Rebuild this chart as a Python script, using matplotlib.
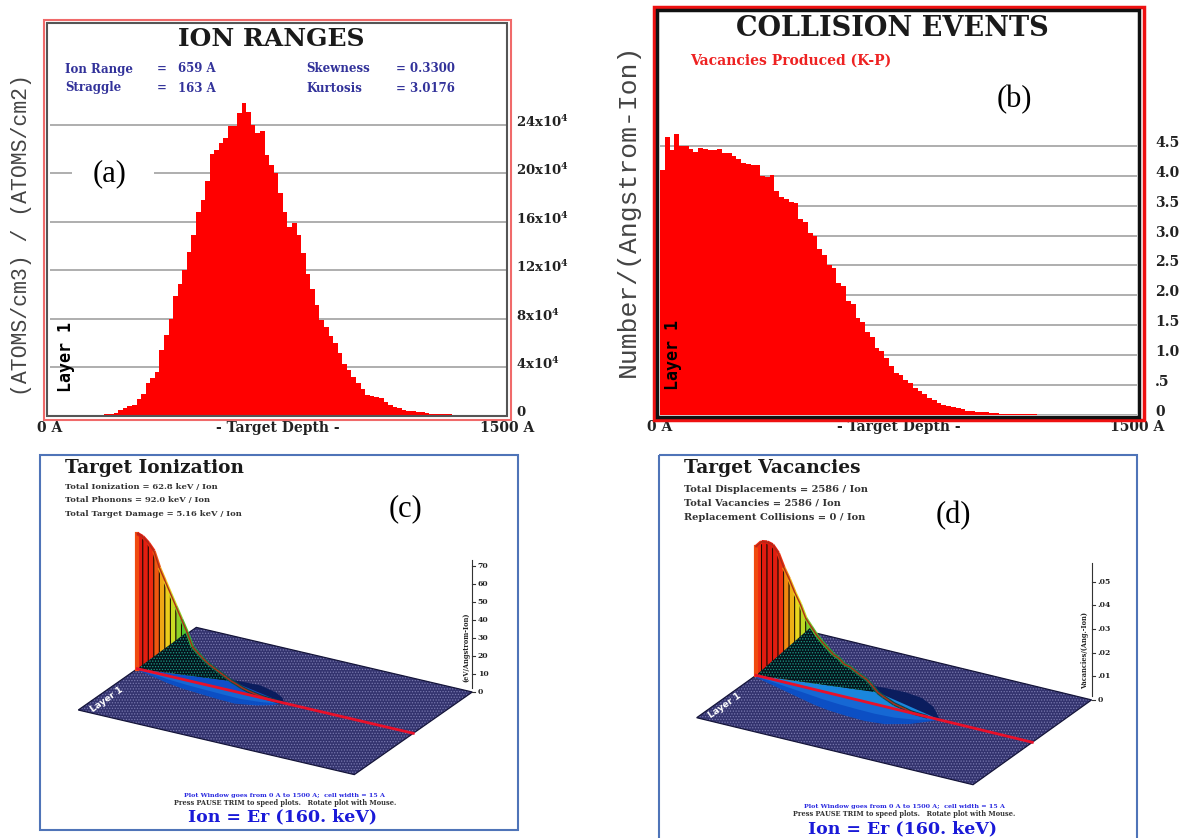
import numpy as np
import matplotlib
matplotlib.use("Agg")
import matplotlib.pyplot as plt
from matplotlib.collections import LineCollection, PolyCollection
from matplotlib.colors import LinearSegmentedColormap
from matplotlib.patches import Polygon, Rectangle
from matplotlib.transforms import ScaledTranslation

plt.rcParams["font.family"] = "DejaVu Serif"
plt.rcParams["mathtext.fontset"] = "dejavuserif"
plt.rcParams["hatch.linewidth"] = 0.6

W, H = 1184, 838

# (a) ion ranges, 100 cells of 15 A, units of 1e4
ion_range = [0] * 12 + [
    0.1, 0.1, 0.2, 0.5, 0.6, 0.8, 0.9, 1.4, 1.8, 2.7, 3.1, 3.6, 5.4, 6.7, 8.0, 9.9,
    10.9, 12.0, 13.5, 14.9, 16.8, 17.8, 19.4, 21.6, 21.9, 22.5, 22.9, 23.9, 23.9, 25.0,
    25.8, 25.1, 24.0, 23.3, 23.5, 21.5, 20.7, 20.0, 18.4, 16.8, 15.6, 15.9, 14.9, 13.4,
    11.7, 10.5, 9.1, 7.9, 7.3, 6.6, 6.0, 5.2, 4.3, 3.8, 3.2, 2.7, 2.2, 1.7, 1.6, 1.55,
    1.5, 1.1, 0.85, 0.75, 0.65, 0.5, 0.4, 0.35, 0.3, 0.28, 0.25, 0.12, 0.1, 0.1, 0.1, 0.1,
] + [0] * 12
a_ticks = [0, 4, 8, 12, 16, 20, 24]

# (b) vacancies, 100 cells of 15 A
vacancies = [
    4.1, 4.65, 4.43, 4.7, 4.5, 4.5, 4.45, 4.4, 4.46, 4.45, 4.44, 4.43, 4.45, 4.39, 4.39,
    4.33, 4.28, 4.22, 4.2, 4.19, 4.18, 4.0, 3.98, 4.02, 3.75, 3.65, 3.62, 3.57, 3.55, 3.28,
    3.22, 3.05, 3.0, 2.78, 2.68, 2.5, 2.46, 2.2, 2.15, 1.9, 1.86, 1.62, 1.55, 1.38, 1.3,
    1.12, 1.06, 0.95, 0.82, 0.7, 0.66, 0.58, 0.53, 0.44, 0.4, 0.35, 0.28, 0.25, 0.2, 0.17,
    0.14, 0.13, 0.11, 0.09, 0.07, 0.06, 0.05, 0.04, 0.04, 0.03, 0.03, 0.02, 0.015, 0.015,
    0.015, 0.015, 0.015, 0.015, 0.015,
] + [0] * 21
b_ticks = [0, 0.5, 1, 1.5, 2, 2.5, 3, 3.5, 4, 4.5]
b_labels = ["0", ".5", "1.0", "1.5", "2.0", "2.5", "3.0", "3.5", "4.0", "4.5"]

# (c) target ionization, eV/Angstrom-Ion every 30 A
c_depth = np.arange(0, 810, 30)
c_profile = [70, 69, 66.5, 63, 55, 49, 43, 37, 31, 25, 18, 15.5, 13, 11, 9.5, 8, 6.5, 5, 4,
             2.8, 2, 1.4, 0.9, 0.5, 0.3, 0.1, 0]
c_ticks = [0, 10, 20, 30, 40, 50, 60, 70]
c_labels = ["0", "10", "20", "30", "40", "50", "60", "70"]

# (d) target vacancies, every 30 A
d_depth = np.arange(0, 960, 30)
d_profile = [.0536, .0562, .0566, .056, .0532, .0478, .0435, .0385, .0342, .0288, .0258,
             .0228, .0205, .0185, .0165, .0155, .0135, .013, .0117, .0105, .0095, .0075,
             .0052, .004, .003, .002, .0015, .001, .0004, .0002, .0001, 0]
d_ticks = [0, .01, .02, .03, .04, .05]
d_labels = ["0", ".01", ".02", ".03", ".04", ".05"]

# lateral spread of the ions on the target plane (half width, plane half = 1)
c_lens_depth = [0, 100, 200, 300, 400, 500, 600, 700, 760, 800]
c_lens_width = [0.02, 0.07, 0.13, 0.17, 0.19, 0.21, 0.22, 0.16, 0.09, 0]
d_lens_depth = [0, 100, 200, 300, 400, 500, 600, 700, 800, 900, 960, 1000]
d_lens_width = [0.03, 0.09, 0.15, 0.21, 0.27, 0.31, 0.33, 0.34, 0.31, 0.2, 0.08, 0]

rainbow = LinearSegmentedColormap.from_list(
    "rainbow3d", [(0, "#0b3a44"), (0.2, "#0f7a50"), (0.4, "#30c030"), (0.66, "#e8e020"),
                  (0.84, "#f09010"), (0.95, "#ee2a10"), (1, "#e01a10")])

fig = plt.figure(figsize=(W / 100, H / 100), dpi=100)
fig.patch.set_facecolor("white")


def panel_axes(left, top, right, bottom):
    return fig.add_axes([left / W, 1 - bottom / H, (right - left) / W, (bottom - top) / H])


def bar_panel(ax, values, ymax, ticks, labels, pad, tick_size):
    centers = np.arange(len(values)) * 15 + 7.5
    ax.bar(centers, values, width=15, color="#ff0000", linewidth=0, zorder=2)
    ax.set_xlim(0, 1500)
    ax.set_ylim(0, ymax)
    ax.set_yticks(ticks)
    ax.set_yticklabels(labels, fontsize=tick_size, fontweight="bold", color="#222222")
    ax.yaxis.tick_right()
    ax.set_xticks([0, 1500])
    ax.set_xticklabels(["0 A", "1500 A"], fontsize=10, fontweight="bold", color="#222222")
    ax.set_xlabel("- Target Depth -", fontsize=10, fontweight="bold", color="#222222", labelpad=-10)
    ax.tick_params(length=0)
    ax.tick_params(axis="y", pad=pad)
    ax.tick_params(axis="x", pad=4)
    ax.grid(axis="y", color="#a8a8a8", linewidth=1.3, zorder=1)
    ax.set_axisbelow(True)
    for s in ax.spines.values():
        s.set_visible(False)
    # tick labels sit a little above their grid lines
    up = ScaledTranslation(0, 4.5 / 100, fig.dpi_scale_trans)
    for lab in ax.get_yticklabels():
        lab.set_transform(lab.get_transform() + up)


ax_a = panel_axes(49.6, 23, 507, 415.7)
bar_panel(ax_a, ion_range, (415.7 - 23) / (290.7 / 24), a_ticks,
          [rf"{t}x10$^{{\mathbf{{4}}}}$" if t else "0" for t in a_ticks], 6.5, 9.5)

ax_b = panel_axes(660, 10, 1137, 414.7)
bar_panel(ax_b, vacancies, (414.7 - 10) / 59.7, b_ticks, b_labels, 13, 10)

# everything else sits on one page axes in image pixels
page = fig.add_axes([0, 0, 1, 1], zorder=5)
page.set_xlim(0, W)
page.set_ylim(H, 0)
page.axis("off")
page.patch.set_alpha(0)


def frame(x0, y0, x1, y1, color, lw):
    page.add_patch(Rectangle((x0, y0), x1 - x0, y1 - y0, fill=False, edgecolor=color, linewidth=lw))


def txt(x, y, s, size=9, color="#222222", weight="bold", ha="left", **kw):
    return page.text(x, y, s, fontsize=size, color=color, fontweight=weight, ha=ha, va="center", **kw)


def part(x, y, s):
    txt(x, y, s, size=22, color="black", weight="normal", ha="center", family="Liberation Serif")


# panel (a) furniture
frame(44, 20, 511, 420, "#f06a6a", 1.5)
frame(47, 23, 507, 416, "#555555", 1.5)
txt(271, 39, "ION RANGES", size=18, color="#1a1a1a", ha="center")
blue = "#32329a"
for x, y, s in [(65, 69, "Ion Range"), (157, 69, "="), (178, 69, "659 A"), (306, 69, "Skewness"),
                (396, 69, "= 0.3300"), (65, 88, "Straggle"), (157, 88, "="), (178, 88, "163 A"),
                (306, 88, "Kurtosis"), (396, 88, "= 3.0176")]:
    txt(x, y, s, size=8.5, color=blue)
page.add_patch(Rectangle((72, 160), 82, 28, facecolor="white", edgecolor="none"))
part(110, 174, "(a)")
txt(22, 235, "(ATOMS/cm3) / (ATOMS/cm2)", size=15.5, color="#444444", weight="normal",
    ha="center", rotation=90, family="Liberation Mono")
txt(66, 357, "Layer 1", size=12, color="black", ha="center", rotation=90, family="DejaVu Sans Mono")

# panel (b) furniture
frame(654, 7, 1144, 420, "#ee1111", 2.5)
frame(657, 10, 1139, 417, "#111111", 2.5)
txt(892, 28, "COLLISION EVENTS", size=19.5, color="#1a1a1a", ha="center")
txt(690, 61, "Vacancies Produced (K-P)", size=10, color="#ee2222")
part(1014, 100, "(b)")
txt(628, 210, "Number/(Angstrom-Ion)", size=19, color="#444444", weight="normal",
    ha="center", rotation=90, family="Liberation Mono")
txt(673, 355, "Layer 1", size=12, color="black", ha="center", rotation=90, family="DejaVu Sans Mono")


def surface_panel(origin, depth_vec, width_vec, height_scale, depth, profile, cut, wedge_end,
                  lens_depth, lens_width, wedge_color, layer_xy):
    origin = np.array(origin, float)
    depth_vec = np.array(depth_vec, float)
    width_vec = np.array(width_vec, float)

    def project(d, w, h):
        d = np.asarray(d, float)
        w = np.asarray(w, float)
        h = np.asarray(h, float)
        x = origin[0] + d / 1500 * depth_vec[0] + w * width_vec[0]
        y = origin[1] + d / 1500 * depth_vec[1] + w * width_vec[1] - h * height_scale
        return np.column_stack([x, y])

    # target plane, dotted mesh
    corners = project([0, 0, 1500, 1500], [1, -1, -1, 1], [0, 0, 0, 0])
    page.add_patch(Polygon(corners, facecolor="#33336e", edgecolor="#7878ae", linewidth=0, hatch="......"))
    page.add_patch(Polygon(corners, fill=False, edgecolor="#15153a", linewidth=0.9))

    # ion cloud on the plane
    ld = np.array(lens_depth, float)
    lw = np.array(lens_width, float)
    upper = np.vstack([project(ld, -lw, 0 * ld), project(ld[::-1], 0 * ld, 0 * ld)])
    lower = np.vstack([project(ld, lw, 0 * ld), project(ld[::-1], 0 * ld, 0 * ld)])
    inner = np.vstack([project(ld, lw * 0.5, 0 * ld), project(ld[::-1], 0 * ld, 0 * ld)])
    page.add_patch(Polygon(upper, facecolor="#0b1d5e", edgecolor="none"))
    page.add_patch(Polygon(lower, facecolor="#0c4fc4", edgecolor="none"))
    page.add_patch(Polygon(inner, facecolor="#1668d4", edgecolor="none"))

    # profile wall, coloured by height
    depth = np.array(depth, float)
    profile = np.array(profile, float)
    top = project(depth, 0 * depth, profile)
    base = project(depth, 0 * depth, 0 * depth)
    quads = [[base[i], top[i], top[i + 1], base[i + 1]] for i in range(len(depth) - 1)]
    norm = profile[:-1] / profile.max()
    page.add_collection(PolyCollection(quads, facecolors=rainbow(norm), edgecolors="#1a0a00", linewidths=0.7))
    page.plot([base[0, 0], top[0, 0]], [base[0, 1], top[0, 1]], color="#f04a10", linewidth=3)

    # bright wedge of the cloud under the wall, then the dark mesh triangle
    keep = (depth >= cut) & (depth <= wedge_end)
    wedge = np.vstack([origin, top[keep][-1], project(ld[-1], 0, 0)])
    page.add_patch(Polygon(wedge, facecolor=wedge_color, edgecolor="none"))
    dark = np.vstack([origin, top[keep]])
    page.add_patch(Polygon(dark, facecolor="#03141c", edgecolor="#1f9a85", linewidth=0, hatch="......"))

    segs = [[top[i], top[i + 1]] for i in range(len(depth) - 1)]
    page.add_collection(LineCollection(segs, colors=rainbow(norm), linewidths=2.6))
    page.plot(top[:, 0], top[:, 1], color="#b02a18", linewidth=1)

    center = project([0, 1500], [0, 0], [0, 0])
    page.plot(center[:, 0], center[:, 1], color="#e8102a", linewidth=2)
    txt(layer_xy[0], layer_xy[1], "Layer 1", size=6.5, color="white", ha="center",
        rotation=35, rotation_mode="anchor", family="DejaVu Sans")


def height_axis(x, y0, scale, ticks, labels, ytop, title, title_x, title_y):
    page.plot([x, x], [y0 - 4, ytop], color="#333333", linewidth=0.8)
    for t, s in zip(ticks, labels):
        y = y0 - t * scale
        page.plot([x, x + 3], [y, y], color="#333333", linewidth=0.8)
        txt(x + 6, y, s, size=5.5)
    txt(title_x, title_y, title, size=4.8, ha="center", rotation=90)


# panel (c)
frame(40, 455, 518, 830, "#4f74b8", 1.5)
txt(65, 468, "Target Ionization", size=13.3, color="#1a1a1a")
for y, s in [(487, "Total Ionization = 62.8 keV / Ion"), (500, "Total Phonons = 92.0 keV / Ion"),
             (514, "Total Target Damage = 5.16 keV / Ion")]:
    txt(65, y, s, size=6, color="#333333")
part(405, 509, "(c)")
surface_panel((137.3, 668.7), (276, 64.6), (-59, 41.3), 1.93, c_depth, c_profile, 270, 510,
              c_lens_depth, c_lens_width, "#0f4fc8", (107, 700))
height_axis(471.7, 691.7, 1.797, c_ticks, c_labels, 560, "(eV/Angstrom-Ion)", 466, 647)
txt(284, 795, "Plot Window goes from 0 A to 1500 A;  cell width = 15 A", size=4.6, color="#2a2ae0", ha="center")
txt(285, 803, "Press PAUSE TRIM to speed plots.   Rotate plot with Mouse.", size=4.8, color="#333333", ha="center")
txt(282, 817, "Ion = Er (160. keV)", size=12.5, color="#1a1ad8", ha="center")

# panel (d), bottom edge runs off the image
frame(659, 455, 1137, 850, "#4f74b8", 1.5)
txt(684, 468, "Target Vacancies", size=13.4, color="#1a1a1a")
for y, s in [(489, "Total Displacements = 2586 / Ion"), (503, "Total Vacancies = 2586 / Ion"),
             (517, "Replacement Collisions = 0 / Ion")]:
    txt(684, y, s, size=7.1, color="#333333")
part(953, 516, "(d)")
surface_panel((756, 675.3), (276.3, 67), (-59.3, 42.4), 2400, d_depth, d_profile, 300, 660,
              d_lens_depth, d_lens_width, "#1a86dc", (725, 706))
height_axis(1091.7, 700, 2367, d_ticks, d_labels, 563, "Vacancies/(Ang.-Ion)", 1085.5, 650)
txt(904, 806, "Plot Window goes from 0 A to 1500 A;  cell width = 15 A", size=4.6, color="#2a2ae0", ha="center")
txt(904, 814, "Press PAUSE TRIM to speed plots.   Rotate plot with Mouse.", size=4.8, color="#333333", ha="center")
txt(902, 829, "Ion = Er (160. keV)", size=12.5, color="#1a1ad8", ha="center")

fig.savefig("out.png", dpi=100)
